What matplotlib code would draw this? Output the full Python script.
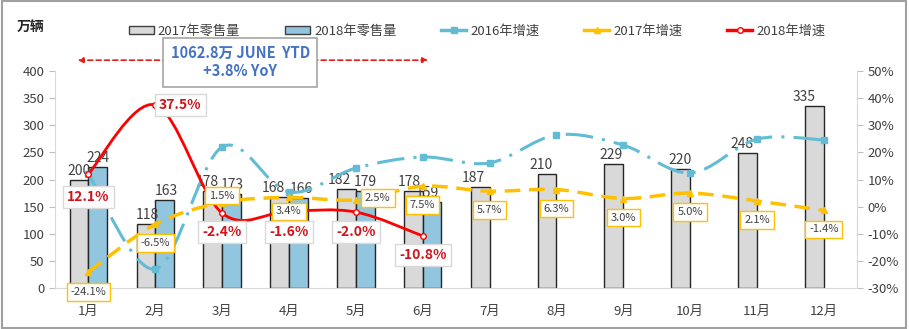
import numpy as np
import matplotlib
matplotlib.use("Agg")
import matplotlib.pyplot as plt
from matplotlib.path import Path
from matplotlib.patches import PathPatch, Patch, Rectangle
from matplotlib.lines import Line2D

plt.rcParams['font.family'] = ['Noto Sans CJK SC', 'DejaVu Sans']

# data
months = ["1月", "2月", "3月", "4月", "5月", "6月", "7月", "8月", "9月", "10月", "11月", "12月"]
sales_2017 = [200, 118, 178, 168, 182, 178, 187, 210, 229, 220, 248, 335]
sales_2018 = [224, 163, 173, 166, 179, 159]
growth_2016 = [12.0, -23.0, 22.0, 5.4, 14.2, 18.3, 16.1, 26.4, 22.7, 12.4, 24.9, 24.6]
growth_2017 = [-24.1, -6.5, 1.5, 3.4, 2.5, 7.5, 5.7, 6.3, 3.0, 5.0, 2.1, -1.4]
growth_2018 = [12.1, 37.5, -2.4, -1.6, -2.0, -10.8]

# label offsets in pixels
dx_17 = [0, 1, -5, -6, -7, -4, -7, -6, -3, -1, -6, -10]
dx_18 = [0, 2, 1, 3, 0, -5]
off_2017 = [(0, -20), (0, -19), (0, 7), (0, -14), (22, 2), (0, -19),
            (0, -19), (0, -19), (0, -19), (0, -19), (0, -19), (0, -19)]
off_2018 = [(0, -23), (25, 0), (0, -19), (0, -21), (0, -20), (0, -19)]

GRAY = "#D9D9D9"
BLUE = "#92C5DE"
TEAL = "#62BCD4"
GOLD = "#FFC000"
RED = "#FF0000"
TXT = "#404040"


def smooth_path(xs, ys):
    # excel style smoothed line (bezier through every point)
    pts = np.column_stack([xs, ys]).astype(float)
    n = len(pts)
    verts = [pts[0]]
    codes = [Path.MOVETO]
    for i in range(n - 1):
        p0 = pts[i - 1] if i > 0 else pts[i]
        p1 = pts[i]
        p2 = pts[i + 1]
        p3 = pts[i + 2] if i + 2 < n else pts[i + 1]
        verts += [p1 + (p2 - p0) / 6, p2 - (p3 - p1) / 6, p2]
        codes += [Path.CURVE4] * 3
    return Path(verts, codes)


fig = plt.figure(figsize=(9.09, 3.29), dpi=100)
ax = fig.add_axes([0.0605, 0.1246, 0.8825, 0.6595])
ax2 = ax.twinx()

x = np.arange(len(months))
x18 = np.arange(len(sales_2018))
w = 0.28
ax.bar(x - w / 2, sales_2017, w, color=GRAY, edgecolor="#262626", linewidth=1.0, zorder=2)
ax.bar(x18 + w / 2, sales_2018, w, color=BLUE, edgecolor="#262626", linewidth=1.0, zorder=2)
for xi, v, d in zip(x - w / 2, sales_2017, dx_17):
    ax.annotate(str(v), (xi, v), xytext=(d, 2), textcoords="offset pixels",
                ha="center", va="bottom", fontsize=10, color=TXT, zorder=3)
for xi, v, d in zip(x18 + w / 2, sales_2018, dx_18):
    ax.annotate(str(v), (xi, v), xytext=(d, 2), textcoords="offset pixels",
                ha="center", va="bottom", fontsize=10, color=TXT, zorder=3)

ax.set_xlim(-0.5, 11.5)
ax.set_ylim(0, 400)
ax.set_yticks(np.arange(0, 401, 50))
ax.set_xticks(x)
ax.set_xticklabels(months)
ax2.set_ylim(-30, 50)
ax2.set_yticks(np.arange(-30, 51, 10))
ax2.set_yticklabels([f"{v}%" for v in range(-30, 51, 10)])

for a in (ax, ax2):
    for s in a.spines.values():
        s.set_visible(False)
    a.tick_params(colors="#BFBFBF", labelcolor=TXT, labelsize=9.5, length=4)
ax.spines["bottom"].set_visible(True)
ax.spines["bottom"].set_color("#D9D9D9")
ax.spines["left"].set_visible(True)
ax.spines["left"].set_color("#D9D9D9")
ax2.spines["right"].set_visible(True)
ax2.spines["right"].set_color("#D9D9D9")
ax.tick_params(axis="x", length=0, pad=12)

# growth lines
ax2.add_patch(PathPatch(smooth_path(x, growth_2016), fill=False, edgecolor=TEAL, lw=2.2,
                        linestyle=(0, (9, 3, 1, 3)), zorder=3))
ax2.plot(x, growth_2016, ls="none", marker="s", ms=5, color=TEAL, zorder=3)
ax2.add_patch(PathPatch(smooth_path(x, growth_2017), fill=False, edgecolor=GOLD, lw=2.5,
                        linestyle=(0, (4.5, 2.5)), zorder=4))
ax2.plot(x, growth_2017, ls="none", marker="^", ms=5, color=GOLD, zorder=4)
ax2.add_patch(PathPatch(smooth_path(x18, growth_2018), fill=False, edgecolor=RED, lw=2.0, zorder=5))
ax2.plot(x18, growth_2018, ls="none", marker="o", ms=4, mfc="white", mec=RED, mew=1, zorder=5)

for xi, v, (dx, dy) in zip(x, growth_2017, off_2017):
    ax2.annotate(f"{v:.1f}%", (xi, v), xytext=(dx, dy), textcoords="offset pixels",
                 ha="center", va="center", fontsize=8, color=TXT, zorder=6,
                 bbox=dict(boxstyle="square,pad=0.35", fc="white", ec=GOLD, lw=1))
for xi, v, (dx, dy) in zip(x18, growth_2018, off_2018):
    ax2.annotate(f"{v:.1f}%", (xi, v), xytext=(dx, dy), textcoords="offset pixels",
                 ha="center", va="center", fontsize=10, fontweight="bold", color="#D0141C",
                 zorder=7, bbox=dict(boxstyle="square,pad=0.3", fc="white", ec="#D9D9D9", lw=1))

# YTD arrow and box
ax.annotate("", xy=(-0.16, 1.05), xytext=(5.08, 1.05), xycoords=("data", "axes fraction"),
            textcoords=("data", "axes fraction"), annotation_clip=False,
            arrowprops=dict(arrowstyle="<|-|>", color="#E0201C", lw=1.2, ls=(0, (3, 2)),
                            mutation_scale=8, shrinkA=0, shrinkB=0))
ax.text(2.27, 1.04, "1062.8万 JUNE  YTD\n+3.8% YoY", transform=ax.get_xaxis_transform(),
        ha="center", va="center", fontsize=10.5, fontweight="bold", color="#4472C4",
        linespacing=1.15, zorder=10, clip_on=False,
        bbox=dict(boxstyle="square,pad=0.5", fc="white", ec="#A6A6A6", lw=1.2))

fig.text(0.018, 0.918, "万辆", fontsize=10, fontweight="bold", color="#262626", va="center")

handles = [
    Patch(facecolor=GRAY, edgecolor="#404040", label="2017年零售量"),
    Patch(facecolor=BLUE, edgecolor="#404040", label="2018年零售量"),
    Line2D([], [], color=TEAL, lw=2.5, marker="s", ms=4, label="2016年增速"),
    Line2D([], [], color=GOLD, lw=2.5, marker="^", ms=4, label="2017年增速"),
    Line2D([], [], color=RED, lw=2.5, marker="o", ms=4, mfc="white", mec=RED, label="2018年增速"),
]
fig.legend(handles=handles, loc="center", bbox_to_anchor=(0.525, 0.905), ncol=5, frameon=False,
           fontsize=9.5, handlelength=1.9, handleheight=0.6, handletextpad=0.3,
           columnspacing=3.4, labelcolor=TXT)

fig.patches.append(Rectangle((0.002, 0.004), 0.995, 0.992, transform=fig.transFigure,
                             fill=False, ec="#A0A0A0", lw=1.5))

fig.savefig("out.png", dpi=100)
